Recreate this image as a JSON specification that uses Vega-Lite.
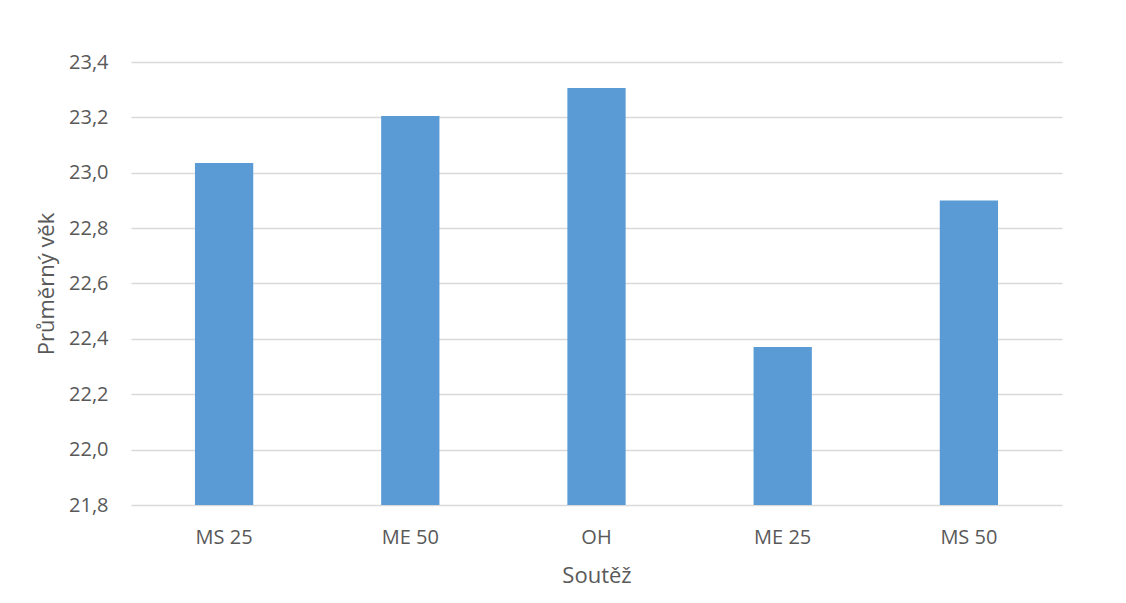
{
  "$schema": "https://vega.github.io/schema/vega-lite/v6.json",
  "autosize": "none",
  "width": 931,
  "height": 443,
  "padding": {"left": 131, "top": 62, "right": 64, "bottom": 98},
  "background": "white",
  "data": {
    "values": [
      {"soutez": "MS 25", "vek": 23.035},
      {"soutez": "ME 50", "vek": 23.205},
      {"soutez": "OH", "vek": 23.306},
      {"soutez": "ME 25", "vek": 22.371},
      {"soutez": "MS 50", "vek": 22.9}
    ]
  },
  "mark": {"type": "bar", "color": "#5b9bd5", "clip": true},
  "encoding": {
    "x": {
      "field": "soutez",
      "type": "nominal",
      "sort": null,
      "scale": {"paddingInner": 0.687, "paddingOuter": 0.3435},
      "axis": {
        "title": "Soutěž",
        "labelAngle": 0,
        "ticks": false,
        "domain": false,
        "labelPadding": 22,
        "titleY": 77,
        "titleBaseline": "alphabetic",
        "titleFontSize": 22
      }
    },
    "y": {
      "field": "vek",
      "type": "quantitative",
      "scale": {"domain": [21.8, 23.4], "zero": false, "nice": false},
      "axis": {
        "title": "Průměrný věk",
        "values": [21.8, 22.0, 22.2, 22.4, 22.6, 22.8, 23.0, 23.2, 23.4],
        "labelExpr": "replace(format(datum.value, '.1f'), '.', ',')",
        "ticks": false,
        "domain": false,
        "grid": true,
        "gridColor": "#d9d9d9",
        "gridWidth": 1.3,
        "labelPadding": 23,
        "titleAngle": -90,
        "titleX": -78,
        "titleY": 221.5,
        "titleAlign": "center",
        "titleBaseline": "alphabetic",
        "titleFontSize": 22
      }
    }
  },
  "config": {
    "font": "Open Sans",
    "view": {"stroke": null},
    "axis": {
      "labelFont": "Open Sans",
      "labelFontSize": 20,
      "labelColor": "#595959",
      "titleFont": "Open Sans",
      "titleFontWeight": "normal",
      "titleColor": "#595959"
    }
  }
}
